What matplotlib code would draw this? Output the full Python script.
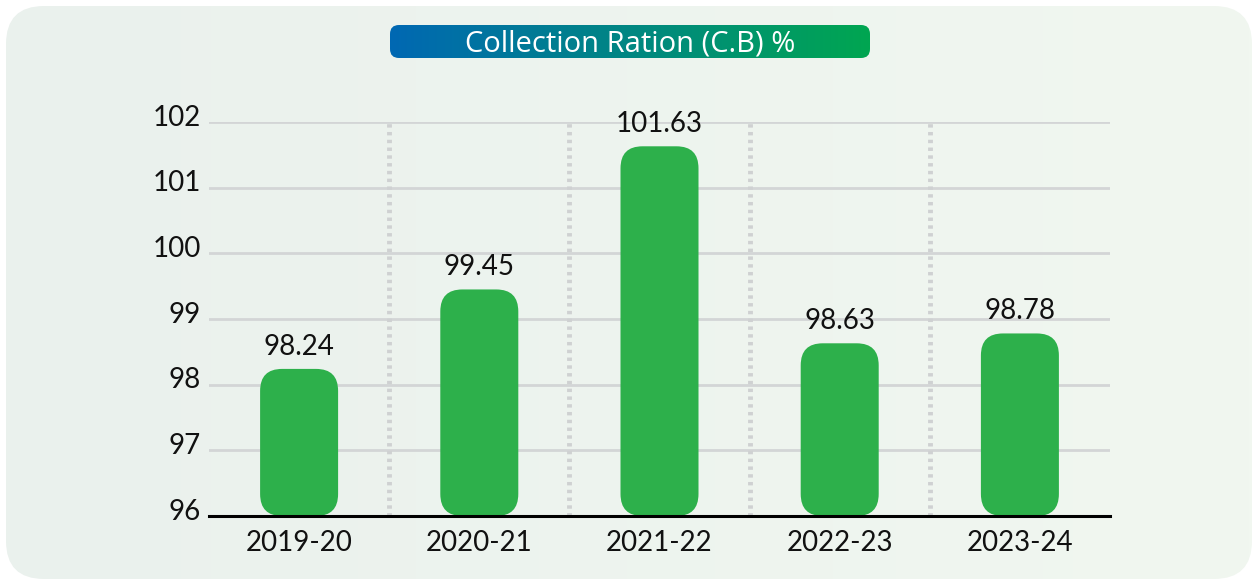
import matplotlib
matplotlib.use("Agg")
import matplotlib.pyplot as plt
import numpy as np
from matplotlib.patches import FancyBboxPatch
from matplotlib.colors import LinearSegmentedColormap
from matplotlib.transforms import ScaledTranslation

plt.rcParams['font.family'] = ['Lato', 'DejaVu Sans']

years = ["2019-20", "2020-21", "2021-22", "2022-23", "2023-24"]
ratio = [98.24, 99.45, 101.63, 98.63, 98.78]
y_ticks = [96, 97, 98, 99, 100, 101, 102]

W, H = 1254, 581
fig = plt.figure(figsize=(W / 100, H / 100), dpi=100)
fig.patch.set_facecolor("white")

# rounded light panel behind everything (soft left-to-right tint)
bg = fig.add_axes([0, 0, 1, 1], zorder=-10)
bg.set_axis_off()
bg.set_xlim(0, 1)
bg.set_ylim(0, 1)
bg_img = bg.imshow(np.linspace(0, 1, 256).reshape(1, -1), extent=[0, 1, 0, 1], aspect="auto",
                   cmap=LinearSegmentedColormap.from_list("bg", ["#EAF1ED", "#F1F7F0"]))
panel = FancyBboxPatch((6 / W, 2 / H), 1246 / W, 573 / H,
                       boxstyle="round,pad=0,rounding_size=%f" % (38 / W),
                       mutation_aspect=W / H, transform=bg.transAxes,
                       facecolor="none", edgecolor="none")
bg.add_patch(panel)
bg_img.set_clip_path(panel)

# plot area
x0, x1, ytop, ybot = 209, 1110, 122, 516
ax = fig.add_axes([x0 / W, (H - ybot) / H, (x1 - x0) / W, (ybot - ytop) / H])
ax.set_facecolor("none")
ax.set_xlim(-0.5, 4.5)
ax.set_ylim(96, 102)

for s in ["top", "right", "left"]:
    ax.spines[s].set_visible(False)
ax.spines["bottom"].set_linewidth(2.2)
ax.spines["bottom"].set_color("black")
ax.spines["bottom"].set_zorder(5)

ax.set_yticks(y_ticks)
ax.yaxis.grid(True, color="#D3D5D6", linewidth=2)
ax.set_axisbelow(True)
ax.tick_params(axis="both", length=0, labelsize=20, colors="#111111")
ax.tick_params(axis="y", pad=6)
ax.tick_params(axis="x", pad=10)
for lab in ax.get_yticklabels():
    lab.set_transform(lab.get_transform() + ScaledTranslation(0, 7 / 100, fig.dpi_scale_trans))

x = np.arange(len(years))
ax.set_xticks(x)
ax.set_xticklabels(years)

# dotted separators between categories
for xs in x[:-1] + 0.5:
    ax.plot([xs, xs], [96, 102], color="#CFD1D2", linewidth=3.5,
            linestyle=(0, (0.7, 0.9)), zorder=1)

# rounded bars
px_x = (x1 - x0) / 5.0
px_y = (ybot - ytop) / 6.0
bw = 78 / px_x
rad = 22 / px_x
bars = ax.bar(x, [v - 96 for v in ratio], bottom=96, width=bw, color="none")
for b, v in zip(bars, ratio):
    p = FancyBboxPatch((b.get_x(), 96), bw, v - 96,
                       boxstyle="round,pad=0,rounding_size=%f" % rad,
                       mutation_aspect=px_x / px_y,
                       facecolor="#2DB04B", edgecolor="none", zorder=3)
    ax.add_patch(p)
    ax.text(b.get_x() + bw / 2, v + 22 / px_y, f"{v:.2f}", ha="center", va="center",
            fontsize=20, color="#111111", zorder=4, clip_on=False)

# gradient title box
tx0, ty0, tw, th = 390, 25, 480, 33
tax = fig.add_axes([tx0 / W, (H - ty0 - th) / H, tw / W, th / H])
tax.set_axis_off()
grad = np.linspace(0, 1, 256).reshape(1, -1)
cmap = LinearSegmentedColormap.from_list("tb", ["#0068B3", "#00A651"])
im = tax.imshow(grad, extent=[0, 1, 0, 1], aspect="auto", cmap=cmap)
tax.set_xlim(0, 1)
tax.set_ylim(0, 1)
clip = FancyBboxPatch((0, 0), 1, 1, boxstyle="round,pad=0,rounding_size=%f" % (9 / tw),
                      mutation_aspect=tw / th, transform=tax.transAxes,
                      facecolor="none", edgecolor="none")
tax.add_patch(clip)
im.set_clip_path(clip)
tax.text(0.5, 0.42, "Collection Ration (C.B) %", ha="center", va="center",
         color="white", fontsize=21, family=["Open Sans", "DejaVu Sans"],
         transform=tax.transAxes)

fig.savefig("out.png", dpi=100, facecolor=fig.get_facecolor())
